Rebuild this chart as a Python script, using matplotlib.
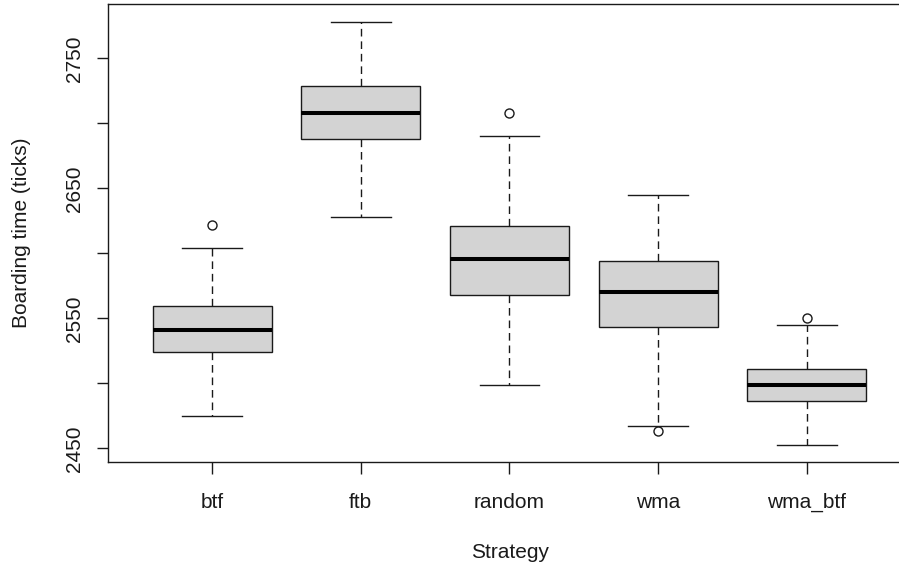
import matplotlib
matplotlib.use("Agg")
import matplotlib.pyplot as plt

# ---- data ----
strategies = ["btf", "ftb", "random", "wma", "wma_btf"]
whisker_low = [2475.0, 2628.0, 2499.0, 2467.5, 2453.0]
q1 = [2524.0, 2688.0, 2568.0, 2543.5, 2486.5]
median = [2541.0, 2708.0, 2596.0, 2570.5, 2498.5]
q3 = [2559.5, 2729.0, 2621.5, 2594.5, 2511.5]
whisker_high = [2604.5, 2778.0, 2690.0, 2645.0, 2545.0]
outliers = [[2622.0], [], [2708.0], [2463.5], [2550.5]]

y_ticks = [2450, 2500, 2550, 2600, 2650, 2700, 2750]
y_tick_labels = ["2450", "", "2550", "", "2650", "", "2750"]

plt.rcParams["font.family"] = ["Liberation Sans", "DejaVu Sans"]

W, H = 899, 571
fig = plt.figure(figsize=(W / 100, H / 100), dpi=100)
# axes box: left 108px, right edge off-canvas (~911px), top 4px, bottom 462px
ax = fig.add_axes([108 / W, (H - 462) / H, (911 - 108) / W, (462 - 4) / H])

stats = []
for i, name in enumerate(strategies):
    stats.append(dict(label=name, whislo=whisker_low[i], q1=q1[i], med=median[i],
                      q3=q3[i], whishi=whisker_high[i], fliers=outliers[i]))

positions = list(range(1, len(strategies) + 1))
ax.bxp(stats, positions=positions, widths=0.8, capwidths=0.4, patch_artist=True,
       showfliers=True,
       boxprops=dict(facecolor="#D3D3D3", edgecolor="#1a1a1a", linewidth=1.0),
       medianprops=dict(color="black", linewidth=2.9, solid_capstyle="butt"),
       whiskerprops=dict(color="#1a1a1a", linewidth=1.0, linestyle=(0, (5.5, 3.5))),
       capprops=dict(color="#1a1a1a", linewidth=1.0),
       flierprops=dict(marker="o", markerfacecolor="none", markeredgecolor="#1a1a1a",
                       markersize=6.5, markeredgewidth=1.0, linestyle="none"))

ax.set_xlim(0.3, 5.7)
ax.set_ylim(2439.6, 2791.9)

ax.set_xticks(positions)
ax.set_xticklabels(strategies, fontsize=15, color="#1a1a1a")
ax.set_yticks(y_ticks)
ax.set_yticklabels(y_tick_labels, fontsize=15, color="#1a1a1a", rotation=90, va="center")

ax.tick_params(axis="x", length=8.5, width=1.0, pad=13.5, color="#1a1a1a")
ax.tick_params(axis="y", length=8.0, width=1.0, pad=9, color="#1a1a1a")

for s in ax.spines.values():
    s.set_linewidth(1.0)
    s.set_color("#1a1a1a")

fig.text(22 / W, 1 - 233 / H, "Boarding time (ticks)", rotation=90, ha="center",
         va="center", fontsize=15, color="#1a1a1a")
fig.text(510 / W, 1 - 553 / H, "Strategy", ha="center", va="center", fontsize=15,
         color="#1a1a1a")

fig.savefig("out.png", dpi=100)
